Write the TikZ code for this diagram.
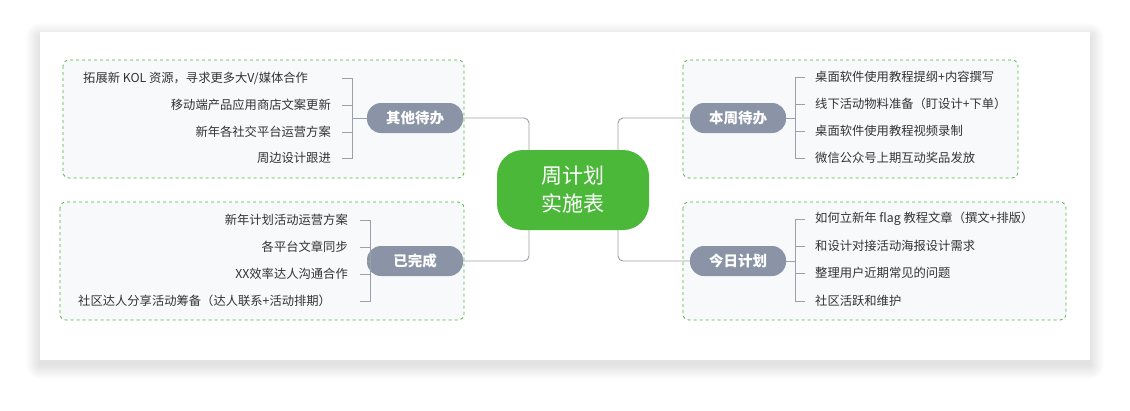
\documentclass[tikz,border=0pt]{standalone}
\usepackage{fontspec}
\setmainfont{Noto Sans CJK SC}
\definecolor{gbox}{HTML}{4CB83A}
\definecolor{pill}{HTML}{8A94A6}
\definecolor{ln}{HTML}{9AA0AA}
\definecolor{txt}{HTML}{333333}
\definecolor{boxfill}{HTML}{F8F9FB}
\tikzset{
 grp/.style={draw=gbox,dashed,fill=boxfill,rounded corners=6pt,line width=0.8pt},
 cat/.style={fill=pill,rounded corners=14pt,minimum width=96pt,minimum height=30pt,text=white,font=\fontsize{14.5pt}{16pt}\selectfont\bfseries},
 itl/.style={anchor=east,text=txt,font=\fontsize{12.3pt}{14pt}\selectfont,inner sep=0pt},
 itr/.style={anchor=west,text=txt,font=\fontsize{12.3pt}{14pt}\selectfont,inner sep=0pt},
 con/.style={draw=ln,line width=0.9pt,rounded corners=5pt},
 br/.style={draw=ln,line width=0.8pt}
}
\begin{document}
\begin{tikzpicture}[x=1pt,y=-1pt]
\useasboundingbox (0,0) rectangle (1130,410);
\fill[white] (0,0) rectangle (1130,410);
\foreach \i in {1,...,14}{
  \fill[black,opacity=0.006,rounded corners=\i pt] (40-\i,32-\i+5) rectangle (1090+\i,360+\i+5);
}
\fill[white] (40,32) rectangle (1090,360);
% groups
\draw[grp] (63,60) rectangle (464,178);
\draw[grp] (60,202) rectangle (464,320);
\draw[grp] (683,60) rectangle (1018,178);
\draw[grp] (683,202) rectangle (1066,320);
% connectors
\draw[con] (462,118) -- (529,118) -- (529,165);
\draw[con] (462,261) -- (529,261) -- (529,215);
\draw[con] (692,118) -- (618,118) -- (618,165);
\draw[con] (692,261) -- (618,261) -- (618,215);
% center
\node[fill=gbox,rounded corners=26pt,minimum width=152pt,minimum height=80pt,text=white,align=center,font=\fontsize{21pt}{28pt}\selectfont] (c) at (573,190) {周计划\\实施表};
% pills
\node[cat] (a) at (415,118) {其他待办};
\node[cat] (b) at (415,261) {已完成};
\node[cat] (d) at (738,118) {本周待办};
\node[cat] (e) at (738,261) {今日计划};
% brackets left top
\draw[br] (342,78) -- (352,78) -- (352,158) -- (342,158);
\draw[br] (342,105) -- (352,105); \draw[br] (342,132) -- (352,132); \draw[br] (352,118) -- (a.west);
\node[itr] (a1) at (83,78) {拓展新 KOL 资源，寻求更多大V/媒体合作};
\node[itl] (a2) at (331,105) {移动端产品应用商店文案更新};
\node[itl] (a3) at (331,132) {新年各社交平台运营方案};
\node[itl] (a4) at (331,158) {周边设计跟进};
% bottom left
\draw[br] (360,220) -- (370,220) -- (370,301) -- (360,301);
\draw[br] (360,247) -- (370,247); \draw[br] (360,274) -- (370,274); \draw[br] (370,261) -- (b.west);
\node[itl] (b1) at (348,220) {新年计划活动运营方案};
\node[itl] (b2) at (348,247) {各平台文章同步};
\node[itl] (b3) at (348,274) {XX效率达人沟通合作};
\node[itr] (b4) at (78,301) {社区达人分享活动筹备（达人联系+活动排期）};
% right top
\draw[br] (805,77) -- (795,77) -- (795,158) -- (805,158);
\draw[br] (805,104) -- (795,104); \draw[br] (805,131) -- (795,131); \draw[br] (d.east) -- (795,118);
\node[itr] (d1) at (815,77) {桌面软件使用教程提纲+内容撰写};
\node[itr] (d2) at (815,104) {线下活动物料准备（盯设计+下单）};
\node[itr] (d3) at (815,131) {桌面软件使用教程视频录制};
\node[itr] (d4) at (815,158) {微信公众号上期互动奖品发放};
% bottom right
\draw[br] (805,219) -- (795,219) -- (795,301) -- (805,301);
\draw[br] (805,246) -- (795,246); \draw[br] (805,273) -- (795,273); \draw[br] (e.east) -- (795,261);
\node[itr] (e1) at (815,219) {如何立新年 flag 教程文章（撰文+排版）};
\node[itr] (e2) at (815,246) {和设计对接活动海报设计需求};
\node[itr] (e3) at (815,273) {整理用户近期常见的问题};
\node[itr] (e4) at (815,301) {社区活跃和维护};
\end{tikzpicture}
\end{document}
